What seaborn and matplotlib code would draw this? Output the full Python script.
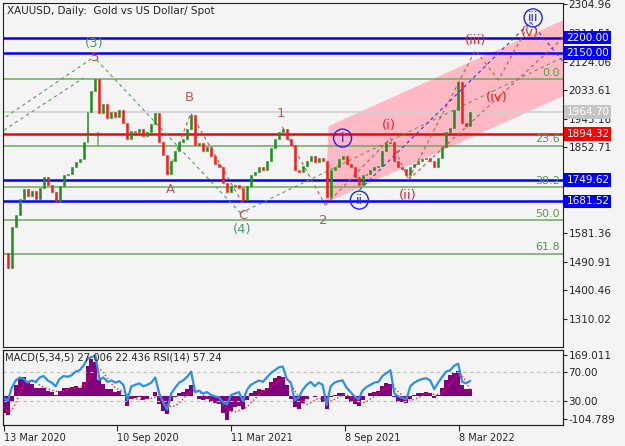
import numpy as np
import pandas as pd
import seaborn as sns
import matplotlib.pyplot as plt
import matplotlib.transforms as mtransforms
from matplotlib.patches import Polygon

# =========================
# data (one value per ~4 px bar)
# =========================
closes = [
    1520, 1470, 1600, 1640, 1690, 1720, 1700, 1715, 1690, 1725,
    1760, 1735, 1710, 1680, 1730, 1765, 1770, 1790, 1805, 1815,
    1870, 1965, 2030, 2068, 1960, 1990, 1945, 1965, 1950, 1970,
    1930, 1880, 1905, 1900, 1910, 1890, 1900, 1925, 1960, 1870,
    1830, 1770, 1810, 1840, 1870, 1880, 1910, 1955, 1860, 1865,
    1840, 1855, 1825, 1800, 1790, 1740, 1710, 1730, 1735, 1725,
    1685, 1730, 1765, 1775, 1790, 1780, 1810, 1850, 1880, 1900,
    1910, 1880, 1860, 1780, 1775, 1795, 1810, 1825, 1805, 1820,
    1810, 1695, 1780, 1790, 1815, 1825, 1800, 1790, 1760, 1735,
    1765, 1770, 1780, 1790, 1795, 1840, 1865, 1870, 1810, 1790,
    1785, 1765, 1790, 1800, 1810, 1815, 1820, 1810, 1790, 1820,
    1855, 1900, 1915, 1970, 2060, 1930, 1920, 1964.70,
]
macd_hist = [
    -60, -70, -20, 40, 65, 68, 55, 45, 30, 28,
    30, 20, 15, 5, 20, 30, 30, 33, 35, 30,
    50, 110, 135, 125, 58, 45, 25, 25, 15, 20,
    5, -35, -12, -8, -5, -15, -10, 0, 15, -30,
    -55, -65, -20, -5, 10, 15, 25, 40, 0, -10,
    -15, -12, -20, -25, -30, -60, -85, -55, -40, -35,
    -45, -15, 10, 20, 25, 22, 30, 50, 65, 72,
    70, 40, -10, -40, -45, -25, -10, 0, -5, 0,
    -20, -45, -5, 5, 10, 12, -10, -20, -30, -35,
    -15, 0, 10, 15, 20, 35, 48, 45, -5, -20,
    -20, -25, -10, 5, 10, 12, 15, 10, -7, 5,
    30, 60, 75, 85, 90, 40, 25, 27.006,
]
macd_signal = [
    -40, -55, -50, -25, 10, 40, 55, 55, 50, 40,
    32, 27, 22, 18, 16, 18, 22, 27, 30, 32,
    35, 55, 80, 100, 100, 85, 65, 45, 30, 22,
    18, 5, -5, -10, -12, -12, -10, -8, -3, -6,
    -18, -32, -38, -35, -25, -10, 5, 18, 20, 15,
    5, -5, -12, -17, -22, -32, -47, -55, -57, -52,
    -48, -40, -25, -10, 5, 17, 25, 33, 45, 55,
    62, 60, 45, 20, -5, -25, -30, -25, -15, -8,
    -10, -18, -17, -12, -5, 5, 5, -2, -12, -22,
    -25, -20, -10, 0, 10, 20, 28, 35, 30, 15,
    2, -12, -15, -12, -5, 2, 8, 10, 6, 6,
    12, 28, 45, 62, 75, 72, 55, 22.436,
]
rsi_vals = [
    34, 30, 48, 58, 62, 60, 55, 58, 56, 62,
    64, 58, 55, 50, 60, 64, 63, 65, 70, 72,
    78, 88, 90, 92, 59, 62, 56, 58, 55, 57,
    52, 31, 50, 52, 54, 50, 52, 55, 62, 40,
    28, 18, 40, 48, 55, 58, 63, 70, 42, 44,
    40, 42, 38, 36, 35, 28, 25, 38, 40, 42,
    30, 45, 52, 55, 58, 56, 62, 68, 72, 76,
    77, 60, 55, 31, 35, 45, 52, 56, 50, 55,
    52, 24, 50, 55, 57, 58, 48, 42, 36, 32,
    44, 49, 52, 55, 56, 64, 68, 72, 40, 36,
    34, 32, 50, 55, 58, 60, 61, 58, 46, 55,
    63, 70, 72, 78, 81, 56, 54, 57.24,
]

date_ticks = [0, 28.4, 56.9, 85.5, 114.3]
date_labels = ["13 Mar 2020", "10 Sep 2020", "11 Mar 2021", "8 Sep 2021", "8 Mar 2022"]
# 1762.26 and 1671.81 sit fully under the level tags, so they are left out
price_ticks = [2304.96, 2214.51, 2124.06, 2033.61, 1943.16, 1852.71,
               1581.36, 1490.91, 1400.46, 1310.02]
blue_levels = [2200.00, 2150.00, 1749.62, 1681.52]
red_level = 1894.32
last_price = 1964.70
fib_prices = [2068.8, 1857.9, 1727.4, 1622.0, 1516.6]
fib_labels = ["0.0", "23.6", "38.2", "50.0", "61.8"]

# wave marks: text, bar, price, colour
wave_labels = [
    ("(3)", 22.6, 2182, "#4a9a72"), ("5", 22.9, 2138, "#c05050"),
    ("A", 41.9, 1718, "#b85c5c"), ("B", 46.6, 2009, "#b85c5c"),
    ("C", 59.9, 1636, "#b85c5c"), ("(4)", 59.9, 1594, "#4a9a72"),
    ("1", 69.4, 1961, "#b85c5c"), ("2", 80.2, 1623, "#b85c5c"),
    ("(i)", 96.5, 1923, "#e82020"), ("(ii)", 101.3, 1702, "#e82020"),
    ("(iii)", 118.3, 2192, "#e82020"), ("(iv)", 123.8, 2009, "#e82020"),
    ("(v)", 132.1, 2217, "#e82020"),
]
circled_labels = [("i", 85.0, 1882), ("ii", 89.2, 1686), ("iii", 132.8, 2262)]

green_paths = [
    ([0, 20], [1907, 2072]),
    ([0.5, 22.6], [1949, 2138]),
    ([23.3, 59.4], [2129, 1645]),
    ([59.4, 140.4], [1645, 2138]),
]
red_paths = [
    ([41.1, 46.9, 60.2], [1765, 1961, 1670]),
    ([69.9, 80.7], [1917, 1670]),
    ([80.7, 97, 101.5, 118.3, 124.1, 132.1], [1670, 1882, 1750, 2160, 2066, 2249]),
    ([101.5, 140.4], [1750, 2200]),
]
blue_paths = [
    ([89.2, 132.1, 140.4], [1718, 2249, 2123]),
]
channel_bars = [80.7, 81.5, 140.4, 140.4]
channel_prices = [1677, 1920, 2255, 2015]

# =========================
# style
# =========================
sns.set_style("ticks")
bg = "#f4f4f4"
plt.rcParams.update({
    "figure.facecolor": bg,
    "axes.facecolor": bg,
    "axes.edgecolor": "#202020",
    "axes.linewidth": 0.8,
    "font.family": ["DejaVu Sans"],
    "font.size": 7.5,
})

df = pd.DataFrame({
    "bar": np.arange(len(closes)),
    "close": closes,
    "hist": macd_hist,
    "signal": macd_signal,
    "rsi": rsi_vals,
})
df["open"] = df["close"].shift(1).fillna(df["close"])
df["up"] = df["close"] >= df["open"]

fig = plt.figure(figsize=(6.25, 4.46), dpi=100)
ax = fig.add_axes([3 / 625, 1 - 347 / 446, 560 / 625, 344 / 446])
ax2 = fig.add_axes([3 / 625, 1 - 425 / 446, 560 / 625, 75.5 / 446], sharex=ax)
ax3 = ax2.twinx()

# ---- main price panel
ax.add_patch(Polygon(list(zip(channel_bars, channel_prices)), closed=True,
                     facecolor="#ffb8c4", edgecolor="none", zorder=1))

for p in fib_prices:
    ax.axhline(p, color="#6aab5e", lw=1.1, zorder=1.5)
ax.vlines(23.6, 1858, 1900, color="#6aab5e", lw=1.1, zorder=1.5)
for p, lab in zip(fib_prices, fib_labels):
    ax.text(139.6, p + 4, lab, color="#5a9a4a", fontsize=8, ha="right", va="bottom", zorder=4)
ax.axhline(last_price, color="#cfcfcf", lw=1.2, zorder=1.5)
ax.axhline(red_level, color="#ff0000", lw=1.8, zorder=2)
for p in blue_levels:
    ax.axhline(p, color="#0000ff", lw=1.8, zorder=2)

for xs, ys in green_paths:
    ax.plot(xs, ys, color="#55a055", lw=0.8, ls=(0, (3, 3)), zorder=3)
for xs, ys in red_paths:
    ax.plot(xs, ys, color="#d05050", lw=0.8, ls=(0, (3, 3)), zorder=3)
for xs, ys in blue_paths:
    ax.plot(xs, ys, color="#3030ff", lw=0.8, ls=(0, (3, 3)), zorder=3)

colors = np.where(df["up"], "#1f8f1f", "#ff1a1a")
ax.bar(df["bar"], df["close"] - df["open"], bottom=df["open"], width=0.5,
       color=colors, edgecolor=colors, linewidth=0.4, zorder=3.5)

for text, bx, py, col in wave_labels:
    ax.text(bx, py, text, color=col, fontsize=9.5, ha="center", va="center", zorder=6)
for text, bx, py in circled_labels:
    ax.text(bx, py, text, color="#2020ff", fontsize=9, ha="center", va="center", zorder=6,
            bbox=dict(boxstyle="circle,pad=0.2", fc="none", ec="#2020ff", lw=1))

ax.set_xlim(-0.2, 140.3)
ax.set_ylim(1221.5, 2309.1)
ax.yaxis.tick_right()
ax.set_yticks(price_ticks)
ax.set_yticklabels([f"{v:.2f}" for v in price_ticks])
ax.tick_params(axis="y", direction="out", length=3, pad=1, labelsize=7.5)
ax.tick_params(axis="x", bottom=False, labelbottom=False)

trans = mtransforms.blended_transform_factory(ax.transAxes, ax.transData)
tags = [(p, "#0000ff") for p in blue_levels] + [(red_level, "#ff0000"), (last_price, "#c4c4c4")]
for p, fc in tags:
    ax.text(1.006, p, f"{p:.2f}", transform=trans, ha="left", va="center", color="white",
            fontsize=7.5, zorder=10, clip_on=False,
            bbox=dict(boxstyle="square,pad=0.18", fc=fc, ec="none"))

# ---- MACD / RSI panel
ax2.bar(df["bar"], df["hist"], width=1.0, color="#800080", linewidth=0, zorder=2)
sns.lineplot(data=df, x="bar", y="signal", ax=ax2, color="#ff2020", lw=1.0,
             linestyle=":", zorder=3)
ax2.set_ylim(-104.789, 169.011)
ax2.set_xlabel("")
ax2.set_ylabel("")
ax2.tick_params(axis="y", left=False, labelleft=False)
ax2.set_xticks(date_ticks)
ax2.set_xticklabels(date_labels, ha="left")
ax2.tick_params(axis="x", direction="out", length=4, pad=2, labelsize=7)

ax3.axhline(70, color="#bdbdbd", lw=0.8, ls=(0, (3, 3)))
ax3.axhline(30, color="#bdbdbd", lw=0.8, ls=(0, (3, 3)))
sns.lineplot(data=df, x="bar", y="rsi", ax=ax3, color="#2b8ff0", lw=1.6)
ax3.set_ylim(-3, 100.3)
ax3.set_ylabel("")
ax3.set_yticks([92.8, 70, 30, 5.4])
ax3.set_yticklabels(["169.011", "70.00", "30.00", "-104.789"])
ax3.tick_params(axis="y", direction="out", length=3, pad=1, labelsize=7.5)
ax3.patch.set_visible(False)

fig.text(7 / 625, 1 - 11 / 446, "XAUUSD, Daily:  Gold vs US Dollar/ Spot", fontsize=7.5, va="center")
fig.text(5 / 625, 1 - 358 / 446, "MACD(5,34,5) 27.006 22.436 RSI(14) 57.24", fontsize=7.2, va="center")

fig.savefig("out.png", dpi=100, facecolor=bg)
plt.close(fig)
